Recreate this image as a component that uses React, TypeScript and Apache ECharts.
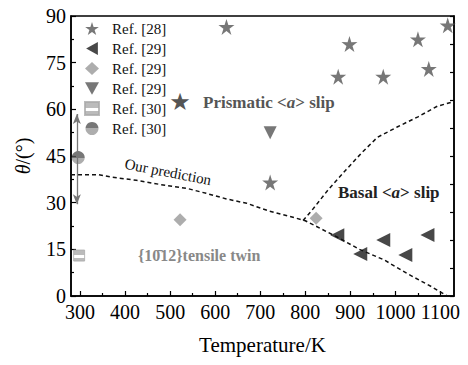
import React, { useEffect, useRef } from "react";
import * as echarts from "echarts";

const xMajorTicks = [300, 400, 500, 600, 700, 800, 900, 1000, 1100];
const xMinorTicks = [350, 450, 550, 650, 750, 850, 950, 1050];

const ref28Stars: [number, number][] = [
  [625, 86.5], [898, 81], [873, 70.5], [973, 70.5], [1050, 82.5], [1074, 73], [1116, 87], [722, 36.5],
];
const ref29LeftTri: [number, number][] = [
  [871, 19.5], [973, 18], [922, 13.5], [1022, 13.2], [1071, 19.6],
];
const ref29Diamond: [number, number][] = [[522, 24.5], [824, 25]];
const ref29DownTri: [number, number][] = [[722, 52.5]];
const ref30Square: [number, number][] = [[298, 13]];
const ref30Circle: [number, number][] = [[296, 44.5]];
const ref30Range = { x: 293, top: 58.5, bottom: 29.5 };

const predictionCurve: [number, number][] = [
  [280, 39], [340, 39], [370, 38.2], [425, 37.2], [480, 35.8], [540, 34.5], [580, 33],
  [625, 31.2], [670, 29.8], [720, 27.3], [760, 25.8], [800, 24.2], [870, 19], [920, 15],
  [975, 11.6], [1025, 7.3], [1080, 3], [1115, 0],
];
const basalPrismBoundary: [number, number][] = [
  [795, 24.3], [815, 27.6], [850, 34], [890, 40.5], [925, 46], [960, 51], [1005, 54.4],
  [1050, 57.6], [1093, 61], [1130, 62.5],
];

const STAR =
  "path://M50 0 L61.17 34.63 L97.55 34.55 L68.07 55.87 L79.39 90.45 L50 69 L20.61 90.45 L31.93 55.87 L2.45 34.55 L38.83 34.63 Z";
const LEFT_TRI = "path://M0 50 L90 0 L90 100 Z";
const DOWN_TRI = "path://M0 0 L100 0 L50 90 Z";
const FONT = "Liberation Serif";

export default function App() {
  const ref = useRef<HTMLDivElement>(null);
  useEffect(() => {
    if (!ref.current) return;
    const chart = echarts.init(ref.current, undefined, { renderer: "svg" });
    const circleGrad = new echarts.graphic.LinearGradient(0, 0, 0, 1, [
      { offset: 0, color: "#555" },
      { offset: 0.5, color: "#555" },
      { offset: 0.5, color: "#999" },
      { offset: 1, color: "#999" },
    ]);
    const squareGrad = new echarts.graphic.LinearGradient(0, 0, 0, 1, [
      { offset: 0, color: "#aaa" },
      { offset: 0.45, color: "#aaa" },
      { offset: 0.45, color: "#fff" },
      { offset: 0.7, color: "#fff" },
      { offset: 0.7, color: "#aaa" },
      { offset: 1, color: "#aaa" },
    ]);
    const axisLine = { show: true, lineStyle: { color: "#000", width: 1.5 } };
    chart.setOption({
      animation: false,
      backgroundColor: "#fff",
      grid: { left: 71, right: 14, top: 16, bottom: 69, show: true, borderColor: "#000", borderWidth: 1.5 },
      legend: {
        orient: "vertical",
        left: 84,
        top: 21,
        padding: 0,
        itemWidth: 14,
        itemHeight: 13,
        itemGap: 5,
        formatter: (n: string) => n.trim(),
        textStyle: { fontFamily: FONT, fontSize: 15, color: "#111", padding: [0, 0, 0, 8] },
        data: [
          { name: "Ref. [28]" },
          { name: "Ref. [29]", icon: LEFT_TRI },
          { name: "Ref. [29] " },
          { name: "Ref. [29]  ", icon: DOWN_TRI },
          { name: "Ref. [30]" },
          { name: "Ref. [30] " },
        ],
      },
      xAxis: [
        {
          type: "value",
          min: 280,
          max: 1130,
          position: "bottom",
          axisLine,
          splitLine: { show: false },
          axisTick: { inside: true, length: 5, customValues: xMajorTicks, lineStyle: { color: "#000", width: 1.2 } },
          axisLabel: {
            customValues: xMajorTicks,
            formatter: (v: number) => String(v),
            fontFamily: FONT,
            fontSize: 20,
            color: "#000",
            margin: 6,
          },
          name: "Temperature/K",
          nameLocation: "middle",
          nameGap: 38,
          nameTextStyle: { fontFamily: FONT, fontSize: 21, color: "#000" },
        },
        {
          type: "value",
          min: 280,
          max: 1130,
          position: "bottom",
          axisLine: { show: false },
          splitLine: { show: false },
          axisTick: { inside: true, length: 3, customValues: xMinorTicks, lineStyle: { color: "#000", width: 1.2 } },
          axisLabel: { show: false },
        },
      ],
      yAxis: [
        {
          type: "value",
          min: 0,
          max: 90,
          interval: 15,
          position: "left",
          axisLine,
          splitLine: { show: false },
          axisTick: { inside: true, length: 5, lineStyle: { color: "#000", width: 1.2 } },
          minorTick: { show: true, splitNumber: 2, length: 3, lineStyle: { color: "#000", width: 1.2 } },
          axisLabel: { fontFamily: FONT, fontSize: 20, color: "#000", margin: 5 },
          name: "{i|θ}/(°)",
          nameLocation: "middle",
          nameGap: 38,
          nameTextStyle: {
            fontFamily: FONT,
            fontSize: 20,
            color: "#000",
            rich: { i: { fontFamily: FONT, fontSize: 20, fontStyle: "italic", color: "#000" } },
          },
        },
        {
          type: "value",
          min: 0,
          max: 100,
          interval: 10,
          position: "right",
          axisLine,
          splitLine: { show: false },
          axisTick: { inside: true, length: 4, lineStyle: { color: "#000", width: 1.2 } },
          axisLabel: { show: false },
        },
      ],
      series: [
        {
          name: "prediction",
          type: "line",
          data: predictionCurve,
          showSymbol: false,
          smooth: false,
          lineStyle: { color: "#111", width: 1.5, type: [4, 3] },
          markLine: {
            silent: true,
            symbol: ["arrow", "arrow"],
            symbolSize: [6, 10],
            label: { show: false },
            lineStyle: { color: "#777", width: 1.3, type: "solid" },
            data: [[{ coord: [ref30Range.x, ref30Range.top] }, { coord: [ref30Range.x, ref30Range.bottom] }]],
          },
        },
        {
          name: "boundary",
          type: "line",
          data: basalPrismBoundary,
          showSymbol: false,
          lineStyle: { color: "#111", width: 1.5, type: [4, 3] },
        },
        {
          name: "Ref. [28]",
          type: "scatter",
          data: ref28Stars,
          symbol: STAR,
          symbolSize: 16,
          itemStyle: { color: "#555" },
        },
        {
          name: "Ref. [29]",
          type: "scatter",
          data: ref29LeftTri,
          symbol: LEFT_TRI,
          symbolSize: 14,
          itemStyle: { color: "#1a1a1a" },
        },
        {
          name: "Ref. [29] ",
          type: "scatter",
          data: ref29Diamond,
          symbol: "diamond",
          symbolSize: 13,
          itemStyle: { color: "#999" },
        },
        {
          name: "Ref. [29]  ",
          type: "scatter",
          data: ref29DownTri,
          symbol: DOWN_TRI,
          symbolSize: 13,
          itemStyle: { color: "#555" },
        },
        {
          name: "Ref. [30]",
          type: "scatter",
          data: ref30Square,
          symbol: "rect",
          symbolSize: 11,
          itemStyle: { color: squareGrad, borderColor: "#aaa", borderWidth: 1 },
        },
        {
          name: "Ref. [30] ",
          type: "scatter",
          data: ref30Circle,
          symbol: "circle",
          symbolSize: 13,
          itemStyle: { color: circleGrad },
        },
      ],
      graphic: [
        {
          type: "text",
          x: 180,
          y: 102,
          style: { text: "★", fontSize: 24, fill: "#555", align: "center", verticalAlign: "middle", fontFamily: "DejaVu Sans" },
        },
        {
          type: "text",
          x: 203,
          y: 102,
          style: {
            text: "Prismatic <{i|a}> slip",
            fontFamily: FONT,
            fontSize: 17,
            fontWeight: "bold",
            fill: "#555",
            verticalAlign: "middle",
            rich: { i: { fontFamily: FONT, fontSize: 17, fontWeight: "bold", fontStyle: "italic", fill: "#555" } },
          },
        },
        {
          type: "text",
          x: 338,
          y: 192,
          style: {
            text: "Basal <{i|a}> slip",
            fontFamily: FONT,
            fontSize: 17,
            fontWeight: "bold",
            fill: "#222",
            verticalAlign: "middle",
            rich: { i: { fontFamily: FONT, fontSize: 17, fontWeight: "bold", fontStyle: "italic", fill: "#222" } },
          },
        },
        {
          type: "text",
          x: 138,
          y: 255,
          style: {
            text: "{10\u030412}tensile twin",
            fontFamily: FONT,
            fontSize: 16,
            fontWeight: "bold",
            fill: "#888",
            verticalAlign: "middle",
          },
        },
        {
          type: "text",
          x: 168,
          y: 172,
          rotation: -0.19,
          style: {
            text: "Our prediction",
            fontFamily: FONT,
            fontSize: 15,
            fill: "#111",
            align: "center",
            verticalAlign: "middle",
          },
        },
      ],
    });
    return () => chart.dispose();
  }, []);
  return <div ref={ref} style={{ width: 468, height: 365, position: "absolute", left: 0, top: 0 }} />;
}
